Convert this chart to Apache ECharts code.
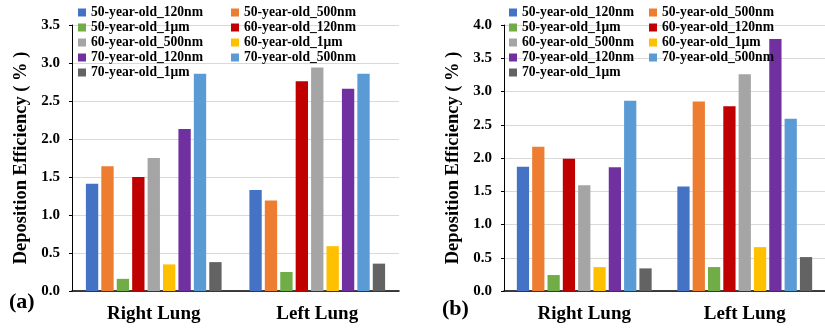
<!DOCTYPE html>
<html lang="en">
<head>
    <meta charset="utf-8">
    <title>Deposition Efficiency</title>
    <script type="text/javascript" src="https://cdn.jsdelivr.net/npm/echarts@6/dist/echarts.min.js"></script>
    <style>
        body { margin: 0; background: #fff; overflow: hidden; }
        .panel { position: absolute; top: 0; height: 328px; }
    </style>
</head>
<body>
<div id="chartA" class="panel" style="left:0;width:412px"></div>
<div id="chartB" class="panel" style="left:412px;width:413px"></div>
<script>
    var categories = ['Right Lung', 'Left Lung'];
    var seriesNames = [
        '50-year-old_120nm', '50-year-old_500nm', '50-year-old_1μm',
        '60-year-old_120nm', '60-year-old_500nm', '60-year-old_1μm',
        '70-year-old_120nm', '70-year-old_500nm', '70-year-old_1μm'
    ];
    var colors = ['#4472C4', '#ED7D31', '#70AD47', '#C00000', '#A5A5A5', '#FFC000', '#7030A0', '#5B9BD5', '#636363'];

    // panel (a): [Right Lung, Left Lung] per series
    var valuesA = [
        [1.41, 1.33], [1.64, 1.19], [0.16, 0.25],
        [1.50, 2.76], [1.75, 2.94], [0.35, 0.59],
        [2.13, 2.66], [2.86, 2.86], [0.38, 0.36]
    ];
    // panel (b)
    var valuesB = [
        [1.87, 1.57], [2.17, 2.85], [0.24, 0.36],
        [1.99, 2.78], [1.59, 3.26], [0.36, 0.66],
        [1.86, 3.79], [2.86, 2.59], [0.34, 0.51]
    ];

    var serifFont = '"Liberation Serif", "Times New Roman", serif';

    function makeChart(id, values, yMax, tag, opts) {
        var myChart = echarts.init(document.getElementById(id));
        var series = [];
        for (var i = 0; i < seriesNames.length; i++) {
            series.push({
                name: seriesNames[i],
                type: 'bar',
                data: values[i],
                barGap: '25%',
                barCategoryGap: opts.catGap,
                itemStyle: {color: colors[i]}
            });
        }
        var option = {
            animation: false,
            textStyle: {fontFamily: serifFont},
            grid: {left: opts.left, right: opts.right, top: 25, bottom: 37},
            legend: {
                data: seriesNames,
                left: opts.legendLeft,
                top: 5,
                width: 310,
                padding: 0,
                itemGap: 0,
                itemWidth: 8,
                itemHeight: 8,
                icon: 'rect',
                textStyle: {
                    fontFamily: serifFont, fontWeight: 'bold', fontSize: 13.6,
                    color: '#000', width: opts.legendText, lineHeight: 15
                }
            },
            graphic: [{
                type: 'text',
                left: opts.tagLeft,
                top: opts.tagTop,
                style: {text: tag, font: 'bold 22px ' + serifFont, fill: '#000'}
            }],
            xAxis: {
                type: 'category',
                data: categories,
                axisLine: {lineStyle: {color: '#000', width: 1.5}},
                axisTick: {show: false},
                axisLabel: {
                    margin: 14, color: '#000', fontFamily: serifFont,
                    fontWeight: 'bold', fontSize: 19
                }
            },
            yAxis: {
                type: 'value',
                min: 0,
                max: yMax,
                interval: 0.5,
                name: 'Deposition Efficiency ( % )',
                nameLocation: 'middle',
                nameGap: opts.nameGap,
                nameTextStyle: {
                    color: '#000', fontFamily: serifFont, fontWeight: 'bold', fontSize: 18.5
                },
                axisLine: {show: true, lineStyle: {color: '#000', width: 1}},
                axisTick: {show: true, length: 3, lineStyle: {color: '#000'}},
                axisLabel: {
                    margin: 12, color: '#000', fontFamily: serifFont,
                    fontWeight: 'bold', fontSize: 15,
                    formatter: function (v) { return v.toFixed(1); }
                },
                splitLine: {lineStyle: {color: '#D9D9D9', width: 1}}
            },
            series: series
        };
        myChart.setOption(option);
    }

    makeChart('chartA', valuesA, 3.5, '(a)', {
        left: 72, right: 13, catGap: '17%', legendLeft: 78, legendText: 140,
        nameGap: 39, tagLeft: 9, tagTop: 291
    });
    makeChart('chartB', valuesB, 4.0, '(b)', {
        left: 92, right: -5, catGap: '16%', legendLeft: 97, legendText: 127,
        nameGap: 34, tagLeft: 30, tagTop: 298
    });
</script>
</body>
</html>
